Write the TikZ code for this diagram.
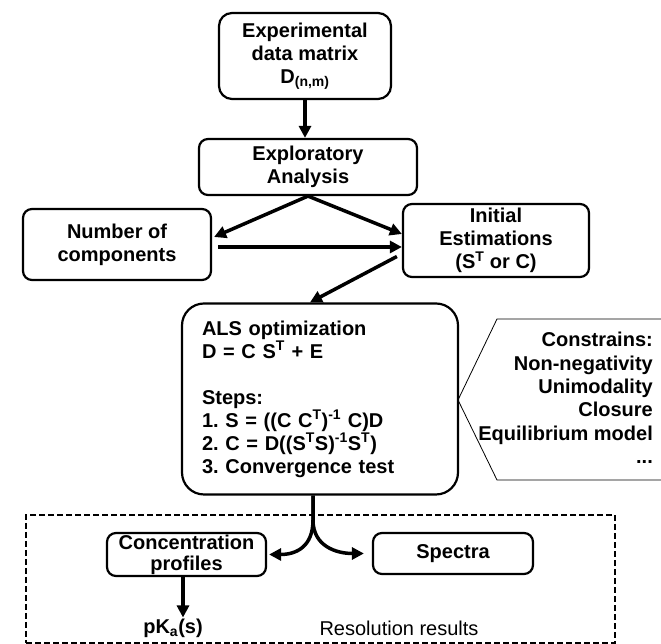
\documentclass[tikz,border=0pt]{standalone}
\usepackage{fontspec}
\setmainfont{Liberation Sans}
\usetikzlibrary{arrows.meta, positioning, calc}
\frenchspacing

\begin{document}
\begin{tikzpicture}[
      x=1pt, y=1pt,
      box/.style={rectangle, draw, line width=2.2pt, rounded corners=9pt, align=center, inner sep=2pt,
        font=\bfseries\fontsize{20}{23}\selectfont},
      arrow/.style={-{Triangle[length=12pt, width=12pt]}, line width=3.5pt},
      label/.style={inner sep=1pt, align=center, font=\bfseries\fontsize{20}{23}\selectfont}
    ]
    \useasboundingbox (0,0) rectangle (661,644);

    \node[box, minimum width=172, minimum height=86, rounded corners=13pt] (exp) at (305,588)
      {Experimental\\ data matrix\\ D\textsubscript{(n,m)}};
    \node[box, minimum width=218, minimum height=56] (expl) at (308,477) {Exploratory\\ Analysis};
    \node[box, minimum width=188, minimum height=71] (ncomp) at (117,399.5) {Number of\\ components};
    \node[box, minimum width=186, minimum height=73] (init) at (496,403.5)
      {Initial\\ Estimations\\ (S\textsuperscript{T} or C)};

    \node[box, minimum width=276, minimum height=191, rounded corners=22pt,
      align=left, text width=236, inner xsep=20pt] (als) at (320,245)
      {ALS optimization\\ D = C S\textsuperscript{T} + E\\[23pt]
       Steps:\\ 1. S = ((C C\textsuperscript{T})\textsuperscript{-1} C)D\\
       2. C = D((S\textsuperscript{T}S)\textsuperscript{-1}S\textsuperscript{T})\\
       3. Convergence test};

    % constraints panel
    \draw[line width=0.8pt] (661,325) -- (497,325) -- (458,244) -- (497,164) -- (661,164);
    \node[label, anchor=east, align=right, font=\bfseries\fontsize{20}{23.3}\selectfont] (cons) at (654,246)
      {Constrains:\\ Non-negativity\\ Unimodality\\ Closure\\ Equilibrium model\\ ...};

    % resolution results
    \node[draw, dashed, line width=2pt, dash pattern=on 6pt off 3pt, minimum width=589, minimum height=128,
      inner sep=0pt] (res) at (320.5,65) {};
    \node[box, minimum width=159, minimum height=43, inner sep=0pt] (conc) at (186.5,89.5)
      {Concentration\\[-2pt] profiles};
    \node[box, minimum width=160, minimum height=41] (spec) at (453,90.5) {Spectra};
    \node[label] (pka) at (173,16) {pK\textsubscript{a}(s)};
    \node[inner sep=1pt, font=\fontsize{20}{23}\selectfont] (restxt) at (399,16) {Resolution results};
    \coordinate (fork) at (313,124);

    \draw[arrow] (exp.south) -- (exp.south |- expl.north);
    \draw[arrow] (expl.south) -- ([xshift=2pt, yshift=7.5pt]ncomp.east);
    \draw[arrow] (expl.south) -- ([yshift=6.5pt]init.west);
    \draw[arrow] ([xshift=6pt, yshift=-2.5pt]ncomp.east) -- ([yshift=-6.5pt]init.west);
    \draw[arrow] ([xshift=-5pt, yshift=-16pt]init.west) -- ([xshift=-10pt]als.north);
    \draw[arrow] (fork |- als.south) -- (fork) .. controls +(0,-26) and +(28,0) .. ([xshift=2pt]conc.east);
    \draw[arrow] (fork |- als.south) -- (fork) .. controls +(0,-26) and +(-28,0) .. ([xshift=-8pt]spec.west);
    \draw[arrow] ([xshift=-3.5pt]conc.south) -- ([xshift=-3.5pt]conc.south |- pka.north);
  \end{tikzpicture}
\end{document}
